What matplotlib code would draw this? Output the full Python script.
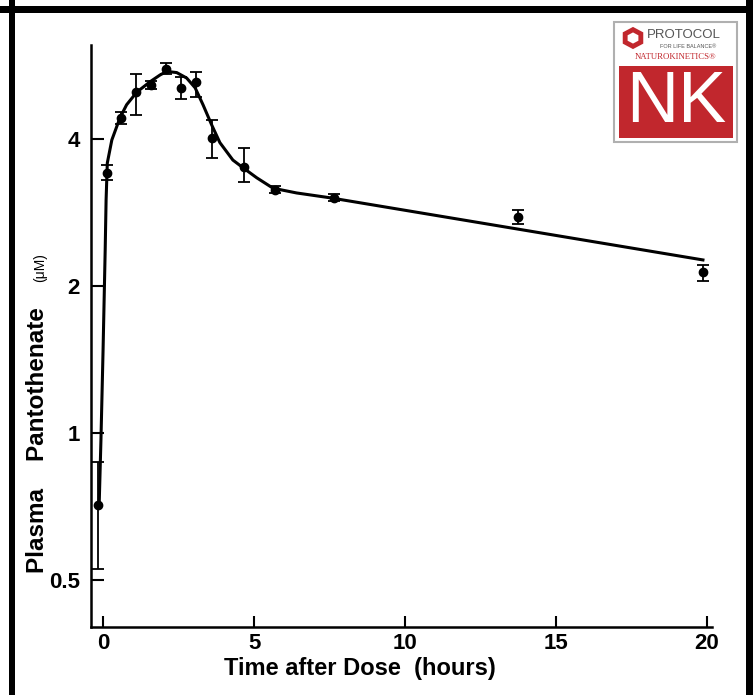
import matplotlib
matplotlib.use("Agg")
import matplotlib.pyplot as plt
from matplotlib.patches import Rectangle, RegularPolygon
from matplotlib.ticker import FixedLocator, NullLocator

# measured points (hours, uM) with error bar limits
t_obs = [-0.17, 0.13, 0.6, 1.09, 1.59, 2.09, 2.58, 3.08, 3.61, 4.67, 5.7, 7.65, 13.74, 19.87]
c_obs = [0.71, 3.41, 4.42, 4.99, 5.16, 5.57, 5.09, 5.22, 4.02, 3.51, 3.15, 3.03, 2.77, 2.13]
c_hi = [0.87, 3.53, 4.55, 5.44, 5.26, 5.72, 5.35, 5.48, 4.37, 3.83, 3.20, 3.08, 2.86, 2.21]
c_lo = [0.527, 3.30, 4.30, 4.48, 5.06, 5.43, 4.82, 4.87, 3.66, 3.27, 3.10, 2.98, 2.68, 2.05]

# fitted curve
t_fit = [-0.13, -0.07, 0.0, 0.07, 0.1, 0.14, 0.29, 0.56, 0.78, 1.12, 1.56, 1.89, 2.11,
         2.44, 2.77, 3.05, 3.31, 3.6, 3.87, 4.3, 4.64, 5.09, 5.63, 6.41, 7.52, 19.87]
c_fit = [0.71, 0.97, 1.48, 2.37, 3.0, 3.57, 3.98, 4.42, 4.70, 4.99, 5.24, 5.41, 5.50,
         5.47, 5.33, 5.09, 4.70, 4.27, 3.93, 3.62, 3.49, 3.33, 3.17, 3.10, 3.03, 2.26]

xticks = [0, 5, 10, 15, 20]
yticks = [0.5, 1, 2, 4]
ytick_labels = ["0.5", "1", "2", "4"]

plt.rcParams['font.family'] = ['Liberation Sans', 'DejaVu Sans']

W, H = 753, 695
fig = plt.figure(figsize=(7.53, 6.95), dpi=100)
ax = fig.add_axes([91 / W, 1 - 627 / H, 621 / W, 582 / H])

ax.plot(t_fit, c_fit, color="black", lw=2.2, solid_joinstyle="round")
yerr = [[c - l for c, l in zip(c_obs, c_lo)], [h - c for c, h in zip(c_obs, c_hi)]]
ax.errorbar(t_obs, c_obs, yerr=yerr, fmt="o", color="black", ms=6,
            elinewidth=1.3, capsize=4.5, capthick=1.3)

ax.set_yscale("log")
ax.set_xlim(-0.40, 20.17)
ax.set_ylim(0.40, 6.23)
ax.yaxis.set_major_locator(FixedLocator(yticks))
ax.yaxis.set_minor_locator(NullLocator())
ax.set_yticklabels(ytick_labels)
ax.set_xticks(xticks)

for s in ["top", "right"]:
    ax.spines[s].set_visible(False)
for s in ["left", "bottom"]:
    ax.spines[s].set_linewidth(1.8)
ax.tick_params(axis="x", direction="in", length=8, width=1.5, labelsize=16, pad=4)
ax.tick_params(axis="y", direction="in", length=9, width=1.5, labelsize=16, pad=8)
for lab in ax.get_xticklabels() + ax.get_yticklabels():
    lab.set_fontweight("bold")

fig.text(360 / W, 1 - 668 / H, "Time after Dose  (hours)", fontsize=17,
         fontweight="bold", ha="center", va="center")
fig.text(38 / W, 1 - 440 / H, "Plasma    Pantothenate", rotation=90, fontsize=17.5,
         fontweight="bold", ha="center", va="center")
fig.text(40 / W, 1 - 268 / H, "(\u03bcM)", rotation=90, fontsize=10,
         ha="center", va="center")

# black frame around the picture
fig.add_artist(Rectangle((0, 1 - 13 / H), 1, 7 / H, transform=fig.transFigure,
                         color="black", lw=0))
fig.add_artist(Rectangle((9 / W, 0), 6 / W, 1, transform=fig.transFigure,
                         color="black", lw=0))
fig.add_artist(Rectangle((746 / W, 0), 7 / W, 1, transform=fig.transFigure,
                         color="black", lw=0))

# logo
red = "#c1272d"
fig.add_artist(Rectangle((614 / W, 1 - 142 / H), 123 / W, 120 / H,
                         transform=fig.transFigure, facecolor="white",
                         edgecolor="#b0b0b0", lw=1.5))
fig.add_artist(Rectangle((619 / W, 1 - 138 / H), 114 / W, 72 / H,
                         transform=fig.transFigure, facecolor=red, lw=0))
fig.text(676 / W, 1 - 104 / H, "NK", color="white", fontsize=52,
         ha="center", va="center")
fig.add_artist(RegularPolygon((633 / W, 1 - 38 / H), 6, radius=0.012,
                              transform=fig.transFigure, facecolor="none",
                              edgecolor=red, lw=3.5))
fig.text(684 / W, 1 - 35 / H, "PROTOCOL", color="#555555", fontsize=9.5,
         ha="center", va="center")
fig.text(688 / W, 1 - 46 / H, "FOR LIFE BALANCE\u00ae", color="#555555", fontsize=4,
         ha="center", va="center")
fig.text(676 / W, 1 - 57 / H, "NATUROKINETICS\u00ae", color=red, fontsize=6.3,
         family="Liberation Serif", ha="center", va="center")

fig.savefig("out.png", dpi=100)
